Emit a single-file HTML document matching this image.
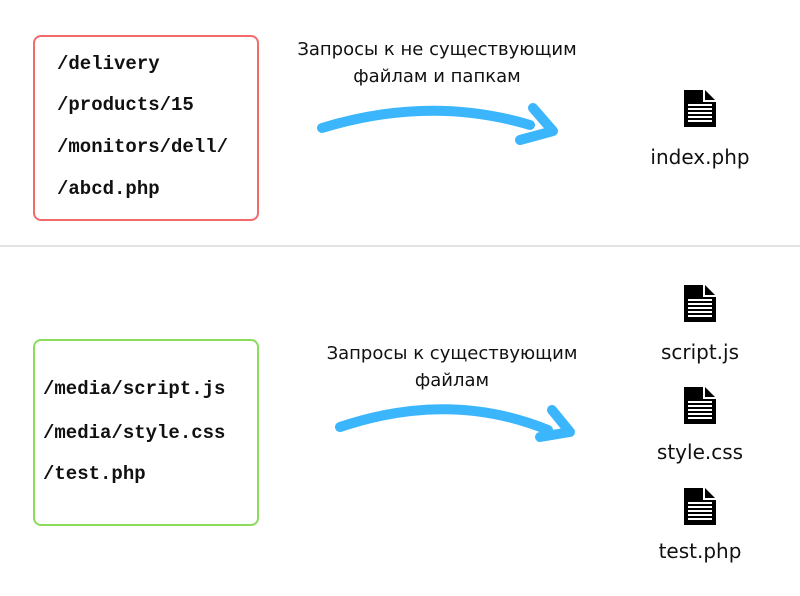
<!DOCTYPE html>
<html><head><meta charset="utf-8"><style>
body{margin:0;width:800px;height:596px;background:#fff;position:relative;overflow:hidden;font-family:"DejaVu Sans","Liberation Sans",sans-serif}
.box{position:absolute;left:33px;width:222px;border:2px solid;border-radius:8px}
.m{position:absolute;font-family:"Liberation Mono",monospace;font-weight:bold;font-size:19px;color:#111;white-space:nowrap;line-height:1}
.t{position:absolute;font-size:18px;color:#111;text-align:center;white-space:nowrap;line-height:27px}
.l{position:absolute;font-size:20px;color:#111;text-align:center;width:140px;line-height:1}
</style></head><body>
<div class="box" style="top:35px;height:182px;border-color:#f36a6a"></div>
<div class="box" style="top:339px;height:183px;border-color:#8cdc5c"></div>
<div style="position:absolute;left:0;top:245px;width:800px;height:2px;background:#e3e3e3"></div>
<div class="m" style="left:57px;top:55px">/delivery</div>
<div class="m" style="left:57px;top:96px">/products/15</div>
<div class="m" style="left:57px;top:138px">/monitors/dell/</div>
<div class="m" style="left:57px;top:180px">/abcd.php</div>
<div class="m" style="left:43px;top:380px">/media/script.js</div>
<div class="m" style="left:43px;top:424px">/media/style.css</div>
<div class="m" style="left:43px;top:465px">/test.php</div>
<div class="t" style="left:287px;width:300px;top:36px">Запросы к не существующим<br>файлам и папкам</div>
<div class="t" style="left:302px;width:300px;top:340px">Запросы к существующим<br>файлам</div>
<svg width="800" height="596" style="position:absolute;left:0;top:0" fill="none" stroke="#3bb6fc" stroke-width="10" stroke-linecap="round" stroke-linejoin="round">
<defs><g id="ic"><path d="M0 0H19V12H32V37H0Z" fill="#000"/><path d="M21 0L31 10H21Z" fill="#000"/><g fill="#fff"><rect x="4" y="14" width="24" height="2"/><rect x="4" y="18" width="24" height="2"/><rect x="4" y="22" width="24" height="2"/><rect x="4" y="26" width="24" height="2"/><rect x="4" y="30" width="24" height="2"/></g></g></defs>
<path d="M322 128 Q430 95 530 125"/><path d="M533 108 L553 131 L520 140"/>
<path d="M340 427 Q450 390 548 430"/><path d="M552 410 L570 432 L540 437"/>
<g stroke="none">
<use href="#ic" x="684" y="90"/>
<use href="#ic" x="684" y="285"/>
<use href="#ic" x="684" y="387"/>
<use href="#ic" x="684" y="488"/>
</g></svg>
<div class="l" style="left:630px;top:147px">index.php</div>
<div class="l" style="left:630px;top:342px">script.js</div>
<div class="l" style="left:630px;top:442px">style.css</div>
<div class="l" style="left:630px;top:541px">test.php</div>
</body></html>
